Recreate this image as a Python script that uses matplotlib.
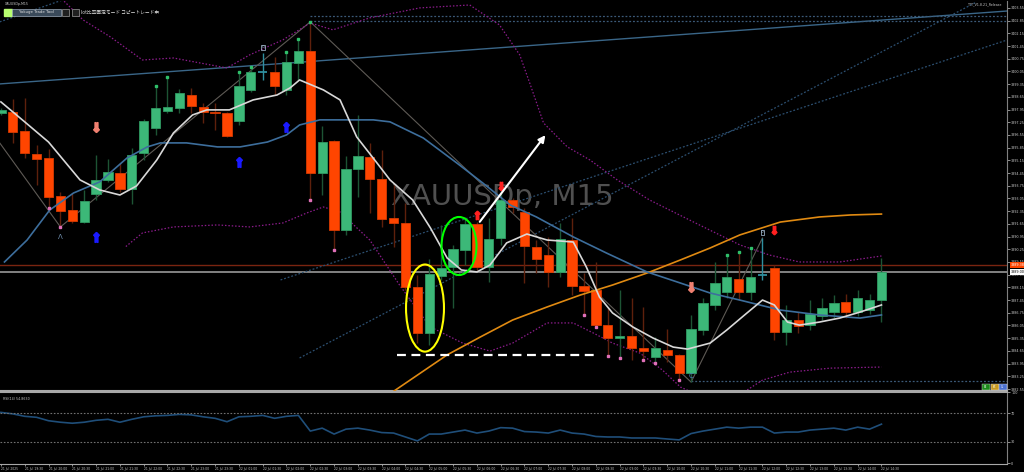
import matplotlib
matplotlib.use('Agg')
import matplotlib.pyplot as plt
from matplotlib.patches import Ellipse, Rectangle
import pandas as pd

plt.rcParams['font.family'] = ['DejaVu Sans', 'Noto Sans CJK JP']

# Velas M15 (XAUUSDp)
opens = [3397.76, 3397.82, 3396.77, 3395.50, 3395.28, 3393.19, 3392.42, 3391.75, 3393.30, 3394.07,
         3394.45, 3393.57, 3395.56, 3396.93, 3397.87, 3398.04, 3398.75, 3398.09, 3397.82, 3397.76,
         3397.32, 3399.03, 3400.02, 3400.02, 3399.03, 3400.52, 3401.18, 3394.45, 3396.22, 3391.31,
         3394.67, 3395.34, 3394.12, 3391.97, 3391.70, 3388.17, 3385.64, 3388.78, 3389.27, 3390.21,
         3391.64, 3389.27, 3390.87, 3392.97, 3392.30, 3390.38, 3389.93, 3389.00, 3390.76, 3388.23,
         3388.00, 3386.08, 3385.36, 3385.47, 3384.81, 3384.31, 3384.70, 3384.42, 3383.43, 3385.80,
         3387.18, 3387.89, 3388.61, 3387.89, 3388.83, 3389.22, 3385.69, 3386.35, 3386.08, 3386.57,
         3386.79, 3387.34, 3386.79, 3386.90, 3387.45]
highs = [3398.04, 3398.53, 3398.59, 3396.00, 3395.78, 3393.41, 3393.35, 3393.52, 3395.45, 3395.23,
         3395.01, 3395.83, 3397.43, 3399.25, 3399.75, 3399.08, 3399.14, 3398.31, 3398.31, 3397.82,
         3400.02, 3400.30, 3401.07, 3400.85, 3401.12, 3401.84, 3402.78, 3397.04, 3396.27, 3395.39,
         3397.65, 3396.11, 3395.72, 3393.79, 3392.80, 3388.83, 3389.71, 3391.59, 3390.49, 3392.03,
         3391.75, 3391.97, 3393.35, 3393.08, 3392.53, 3390.76, 3390.93, 3391.70, 3391.97, 3388.94,
         3389.55, 3387.01, 3388.00, 3387.56, 3387.07, 3385.42, 3385.86, 3384.48, 3386.63, 3387.56,
         3389.55, 3389.93, 3390.10, 3390.32, 3390.87, 3389.38, 3387.18, 3386.79, 3387.45, 3387.56,
         3387.73, 3387.78, 3388.00, 3387.78, 3389.77]
lows = [3397.65, 3396.11, 3395.28, 3393.79, 3392.52, 3391.48, 3391.70, 3391.70, 3392.97, 3393.96,
        3393.41, 3392.75, 3395.17, 3396.55, 3397.76, 3397.76, 3397.76, 3397.21, 3396.82, 3396.44,
        3397.10, 3398.92, 3399.58, 3398.75, 3398.75, 3399.58, 3392.97, 3393.24, 3390.21, 3391.04,
        3393.13, 3392.25, 3391.48, 3390.38, 3388.00, 3385.08, 3384.97, 3388.56, 3387.01, 3389.38,
        3389.11, 3388.45, 3390.49, 3392.25, 3388.39, 3388.94, 3388.17, 3388.72, 3387.73, 3386.63,
        3385.97, 3384.37, 3384.26, 3384.15, 3384.15, 3383.98, 3384.04, 3383.04, 3382.93, 3385.53,
        3386.90, 3387.56, 3387.45, 3387.45, 3388.56, 3385.25, 3384.97, 3385.64, 3385.80, 3386.35,
        3386.46, 3386.46, 3386.57, 3386.68, 3386.24]
closes = [3397.93, 3396.71, 3395.56, 3395.23, 3393.13, 3392.36, 3391.81, 3392.91, 3394.07, 3394.51,
          3393.57, 3395.45, 3397.32, 3398.04, 3398.09, 3398.86, 3398.15, 3397.82, 3397.76, 3396.49,
          3399.25, 3400.02, 3400.02, 3399.25, 3400.57, 3401.18, 3394.45, 3396.16, 3391.31, 3394.67,
          3395.39, 3394.12, 3391.92, 3391.70, 3388.17, 3385.64, 3388.89, 3389.22, 3390.26, 3391.64,
          3389.27, 3390.82, 3392.97, 3392.58, 3390.43, 3389.71, 3389.00, 3390.82, 3388.23, 3387.95,
          3386.08, 3385.36, 3385.47, 3384.81, 3384.64, 3384.81, 3384.42, 3383.43, 3385.86, 3387.29,
          3388.39, 3388.72, 3387.89, 3388.72, 3388.83, 3385.69, 3386.35, 3386.02, 3386.68, 3387.01,
          3387.29, 3386.79, 3387.56, 3387.45, 3389.00]
ask_price = 3389.38

# RSI(14)
rsi = [71.4, 69.3, 65.9, 64.5, 59.7, 57.6, 56.2, 57.6, 60.3, 61.7,
       57.6, 61.7, 65.2, 66.6, 67.2, 68.6, 67.9, 65.2, 63.1, 58.3,
       65.2, 65.9, 67.2, 63.1, 65.9, 67.2, 45.2, 49.3, 41.0, 47.9,
       49.3, 46.6, 43.1, 42.4, 36.9, 31.4, 41.0, 41.0, 43.8, 46.6,
       42.4, 45.2, 50.0, 49.3, 44.5, 43.8, 42.4, 46.6, 42.4, 41.0,
       37.6, 36.9, 36.9, 35.5, 35.5, 35.5, 34.1, 32.8, 41.7, 45.2,
       47.9, 50.7, 49.3, 50.7, 50.7, 42.4, 43.8, 43.8, 46.6, 47.9,
       49.3, 46.6, 50.7, 47.9, 54.9]
rsi_last = 54.8630

# medias moviles
white_x = [0, 2, 4, 6.65, 8.3, 10, 11.4, 13.1, 14.5, 16.1, 17.3, 19.2, 21.2, 23.2, 24.3, 25.1, 27.1,
           28.5, 29.9, 31.6, 32.7, 34.6, 36.1, 37.5, 38.7, 40.0, 41.1, 42.5, 44.2, 45.9, 48.1, 49.2,
           50.3, 51.4, 53.1, 54.8, 56.5, 57.7, 59.6, 61.0, 62.5, 64.0, 65.0, 66.1, 67.1, 68.8, 70.5,
           72.2, 74.0]
white_y = [3398.37, 3397.27, 3396.16, 3394.07, 3393.52, 3393.24, 3393.74, 3395.17, 3396.66, 3397.65,
           3397.93, 3397.93, 3398.48, 3398.75, 3399.14, 3399.58, 3399.03, 3398.48, 3396.44, 3395.01,
           3394.07, 3392.97, 3391.42, 3389.77, 3389.11, 3389.00, 3389.38, 3390.60, 3391.09, 3390.76,
           3390.65, 3389.27, 3387.62, 3386.74, 3385.97, 3385.36, 3384.86, 3384.75, 3385.08, 3385.80,
           3386.63, 3387.45, 3387.18, 3386.24, 3386.07, 3386.24, 3386.46, 3386.79, 3387.18]
blue_x = [0.3, 2.2, 4.1, 6.1, 8.3, 10.6, 12.3, 13.4, 15.6, 18.2, 20.1, 22.4, 24.0, 25.1, 26.8, 31.3,
          32.7, 35.5, 38.3, 40.5, 42.8, 45.0, 48.1, 50.9, 54.3, 57.1, 59.6, 62.1, 65.5, 68.8, 72.2, 74.0]
blue_y = [3389.55, 3390.76, 3392.41, 3393.35, 3393.96, 3395.28, 3395.89, 3396.11, 3396.11, 3395.89,
          3395.89, 3396.16, 3396.55, 3397.10, 3397.38, 3397.38, 3397.27, 3396.38, 3395.01, 3393.90,
          3392.69, 3392.03, 3390.93, 3390.04, 3389.00, 3388.39, 3387.84, 3387.45, 3386.90, 3386.63,
          3386.46, 3386.63]
orange_x = [32.5, 37.5, 40.3, 43.0, 45.9, 48.7, 51.4, 54.3, 57.1, 59.6, 62.1, 65.5, 68.8, 71.4, 74.0]
orange_y = [3382.20, 3384.43, 3385.42, 3386.35, 3387.07, 3387.73, 3388.28, 3388.94, 3389.66, 3390.32,
            3391.04, 3391.75, 3392.03, 3392.14, 3392.19]
# bandas (lineas punteadas moradas)
up_x = [4.0, 5.2, 6.9, 9.2, 11.9, 14.5, 16.7, 19.0, 20.9, 23.7, 26.0, 27.9, 31.0, 35.2, 39.4, 41.9,
        43.6, 44.5, 45.6, 47.6, 49.5, 51.8, 54.5, 58.7, 62.1, 64.6, 67.1, 70.5, 74.0]
up_y = [3404.60, 3403.99, 3402.89, 3401.95, 3400.68, 3400.79, 3400.52, 3400.24, 3400.96, 3401.79,
        3402.72, 3402.34, 3403.00, 3403.55, 3403.71, 3402.61, 3400.96, 3399.30, 3397.21, 3395.89,
        3395.17, 3394.07, 3392.97, 3391.59, 3390.49, 3389.93, 3389.55, 3389.55, 3389.88]
lo_x = [10.5, 11.9, 14.5, 18.2, 20.9, 23.7, 25.7, 27.1, 28.5, 31.0, 33.5, 35.2, 36.1, 38.8, 41.1,
        43.0, 45.9, 48.1, 49.8, 51.4, 53.7, 55.6, 57.1, 58.2, 60.4, 62.7, 64.0, 66.3, 69.7, 74.0]
lo_y = [3390.40, 3391.15, 3391.48, 3391.59, 3391.48, 3391.70, 3392.25, 3392.58, 3392.30, 3390.76,
        3388.28, 3386.74, 3385.97, 3385.08, 3384.64, 3385.08, 3386.19, 3386.19, 3385.63, 3385.08,
        3384.53, 3383.59, 3382.66, 3382.33, 3381.94, 3382.49, 3383.04, 3383.48, 3383.70, 3383.76]

# zigzag y lineas de tendencia
zz_x = [-0.1, 5, 26, 58, 64]
zz_y = [3396.11, 3391.48, 3402.78, 3382.93, 3390.87]
trend_solid = ([-0.1, 84.6], [3399.36, 3403.38])
trend_dots = [([25.1, 82.0], [3384.26, 3403.88]),
              ([23.5, 84.6], [3388.56, 3401.79]),
              ([-0.1, 5.2], [3402.78, 3403.99])]
hlines_dotted = [(26, 3403.11), (26, 3402.83), (58, 3382.99)]

# señales
green_dots = [13, 14, 20, 21, 24, 25, 26, 61, 62, 63]
pink_dots = [4, 5, 26, 28, 49, 50, 51, 52, 54, 55, 57]
blue_up = [(8, 3390.93), (20, 3395.06), (24, 3396.99)]
salmon_down = [(8, 3396.99), (58, 3388.17)]
red_up = [(40, 3392.14)]
red_down = [(42, 3393.74), (65, 3391.31)]

times = (list(pd.date_range('2025-07-21 19:00', periods=20, freq='15min')) +
         list(pd.date_range('2025-07-22 01:00', periods=55, freq='15min')))

n = len(opens)
fig = plt.figure(figsize=(10.24, 4.72), dpi=100, facecolor='black')
ax = fig.add_axes([0, 81 / 472, 1007 / 1024, 390 / 472], facecolor='black')
ax2 = fig.add_axes([0, 8 / 472, 1007 / 1024, 72 / 472], facecolor='black')

ax.set_xlim(-0.076, 84.55)
ax.set_ylim(3382.44, 3403.93)

# velas
for i in range(n):
    o, h, l, c = opens[i], highs[i], lows[i], closes[i]
    if c > o:
        body, edge, wick = '#3cb878', '#2f9a62', '#1d5434'
    elif c < o:
        body, edge, wick = '#ff4500', '#d83a00', '#5e200c'
    else:
        body, edge, wick = None, None, '#2f8f9f'
    ax.vlines(i, l, h, color=wick, lw=1, zorder=3)
    if body:
        ax.bar(i, abs(c - o), bottom=min(o, c), width=0.78, color=body,
               edgecolor=edge, lw=0.6, zorder=4)
    else:
        ax.hlines(c, i - 0.39, i + 0.39, color=wick, lw=1.3, zorder=4)

ax.text(42.1, 3393.13, 'XAUUSDp, M15', color='#505050', fontsize=21,
        ha='center', va='center', zorder=1)

ax.axhline(ask_price, color='#7a2410', lw=1, zorder=2)
ax.axhline(closes[-1], color='#8c8c8c', lw=1.3, zorder=2)

ax.plot(*trend_solid, color='#3a6688', lw=1, zorder=2)
for tx, ty in trend_dots:
    ax.plot(tx, ty, color='#2c4f70', lw=0.9, ls=(0, (1.5, 1.5)), zorder=2)
for start, level in hlines_dotted:
    ax.plot([start, 84.6], [level, level], color='#3c5a78', lw=0.9, ls=(0, (1.5, 1.5)), zorder=2)
ax.plot(zz_x, zz_y, color='#5e5a55', lw=0.8, zorder=2)

ax.plot(up_x, up_y, color='#8b1c8b', lw=0.9, ls=(0, (1.2, 1.5)), zorder=2)
ax.plot(lo_x, lo_y, color='#8b1c8b', lw=0.9, ls=(0, (1.2, 1.5)), zorder=2)
ax.plot(orange_x, orange_y, color='#e08a12', lw=1.2, zorder=5)
ax.plot(blue_x, blue_y, color='#3d6e9c', lw=1.2, zorder=5)
ax.plot(white_x, white_y, color='#d8d8d8', lw=1.2, zorder=5)

ax.plot(green_dots, [highs[i] for i in green_dots], 's', color='#2fbf6a', ms=1.6, zorder=6)
ax.plot(pink_dots, [lows[i] for i in pink_dots], 's', color='#e070b8', ms=1.6, zorder=6)

# flechas como marcadores
def arrows(points, glyph, color, size):
    ax.plot([p[0] for p in points], [p[1] for p in points], ls='none',
            marker=glyph, color=color, ms=size, zorder=6)

arrows(blue_up, r'$\Uparrow$', '#1a1aff', 7)
arrows(salmon_down, r'$\Downarrow$', '#f08070', 7)
arrows(red_up, r'$\Uparrow$', '#ff2020', 6)
arrows(red_down, r'$\Downarrow$', '#ff2020', 6)

ax.text(5, 3390.95, 'Λ', color='#7090b0', fontsize=5, ha='center', va='center', zorder=6)
ax.text(58, 3383.25, 'C', color='#5080c0', fontsize=5, ha='center', va='center', zorder=6)
for i in [22, 64]:
    ax.text(i, highs[i] + 0.2, '0', color='#b0c8e0', fontsize=3, ha='center', va='bottom', zorder=6,
            bbox=dict(boxstyle='square,pad=0.15', fc='none', ec='#b0c8e0', lw=0.5))

# dibujos a mano
ax.add_patch(Ellipse((35.64, 3387.01), 3.19, 4.80, fill=False, ec='#ffff00', lw=1.5, zorder=7))
ax.add_patch(Ellipse((38.5, 3390.43), 2.94, 3.20, fill=False, ec='#00ff00', lw=1.5, zorder=7))
ax.annotate('', xy=(45.9, 3396.66), xytext=(40.1, 3391.64), zorder=7,
            arrowprops=dict(arrowstyle='-|>', color='white', lw=1.5, mutation_scale=10))
ax.plot([33.3, 50.2], [3384.42, 3384.42], color='white', lw=1.6, ls=(0, (4, 2.5)), zorder=7)

# eje de precios
ticks = [3382.55 + 0.70 * k for k in range(31)]
ax.yaxis.tick_right()
ax.set_yticks(ticks)
ax.set_yticklabels([f'{t:.2f}' for t in ticks], fontsize=2.4, color='#c8c8c8')
ax.tick_params(axis='y', length=2, width=0.5, color='#c8c8c8', pad=1)
ax.set_xticks([])
for s in ['left', 'top']:
    ax.spines[s].set_visible(False)
ax.spines['right'].set_color('#808080')
ax.spines['bottom'].set_color('#a8a8a8')
ax.spines['bottom'].set_linewidth(1.5)

tr = ax.get_yaxis_transform()
ax.text(1.004, ask_price, f'{ask_price:.2f}', transform=tr, fontsize=2.4, color='white', va='center',
        bbox=dict(boxstyle='square,pad=0.3', fc='#ff4500', ec='none'), zorder=8, clip_on=False)
ax.text(1.004, closes[-1], f'{closes[-1]:.2f}', transform=tr, fontsize=2.4, color='black', va='center',
        bbox=dict(boxstyle='square,pad=0.3', fc='white', ec='none'), zorder=8, clip_on=False)

# RSI
ax2.set_xlim(-0.076, 84.55)
ax2.set_ylim(-1, 100)
ax2.plot(range(n), rsi, color='#1f4e79', lw=1.2)
ax2.axhline(70, color='#707070', lw=0.8, ls=(0, (1.5, 1.5)))
ax2.axhline(30, color='#707070', lw=0.8, ls=(0, (1.5, 1.5)))
ax2.yaxis.tick_right()
ax2.set_yticks([0, 30, 70, 100])
ax2.set_yticklabels(['0', '30', '70', '100'], fontsize=2.4, color='#c8c8c8')
ax2.tick_params(axis='y', length=2, width=0.5, color='#c8c8c8', pad=1)
tick_idx = list(range(0, n, 2))
tick_lbl = ['21 Jul 2025' if i == 0 else times[i].strftime('%d %b %H:%M') for i in tick_idx]
ax2.set_xticks(tick_idx)
ax2.set_xticklabels(tick_lbl, fontsize=2.2, color='#c8c8c8', ha='left')
ax2.tick_params(axis='x', length=1.5, width=0.5, color='#c8c8c8', pad=0.8)
ax2.spines['left'].set_visible(False)
ax2.spines['right'].set_color('#808080')
ax2.spines['top'].set_color('#a8a8a8')
ax2.spines['top'].set_linewidth(1.5)
ax2.spines['bottom'].set_color('#a8a8a8')
ax2.text(0.003, 0.93, f'RSI(14) {rsi_last:.4f}', transform=ax2.transAxes, fontsize=2.3,
         color='#c8c8c8', va='top')

# barra superior
fig.text(5 / 1024, 1 - 4 / 472, 'XAUUSDp,M15', fontsize=2.3, color='#c8c8c8', va='center')
fig.add_artist(Rectangle((4 / 1024, 1 - 16 / 472), 8 / 1024, 7 / 472, color='#b8ff70'))
fig.add_artist(Rectangle((12 / 1024, 1 - 16 / 472), 49 / 1024, 7 / 472, fc='#3a4a5a', ec='#9aaabb', lw=0.5))
fig.text(36.5 / 1024, 1 - 12.5 / 472, 'Yokuge Trade Tool', fontsize=2.8, color='#e0e0e0', ha='center', va='center')
for x0 in [62, 72]:
    fig.add_artist(Rectangle((x0 / 1024, 1 - 16 / 472), 7 / 1024, 7 / 472, fc='#202020', ec='#9a9a9a', lw=0.5))
fig.text(81 / 1024, 1 - 12.5 / 472, 'lot比率固定モード コピートレード中', fontsize=3.4,
         color='#e0e0e0', va='center', family=['Noto Sans CJK JP', 'DejaVu Sans'])
fig.text(1002 / 1024, 1 - 4 / 472, 'TTT_V1.8.21_Release', fontsize=2.3, color='#c8c8c8', ha='right', va='center')
for x0, col, lbl in [(982, '#1a8a1a', 'BE'), (991, '#c89a20', 'BC'), (999, '#4a70d0', 'CL')]:
    fig.add_artist(Rectangle((x0 / 1024, (472 - 390) / 472), 7.5 / 1024, 6 / 472, fc=col, ec='#dddddd', lw=0.3))
    fig.text((x0 + 3.7) / 1024, (472 - 387) / 472, lbl, fontsize=1.8, color='white', ha='center', va='center')

plt.savefig('out.png', dpi=100, facecolor='black')
